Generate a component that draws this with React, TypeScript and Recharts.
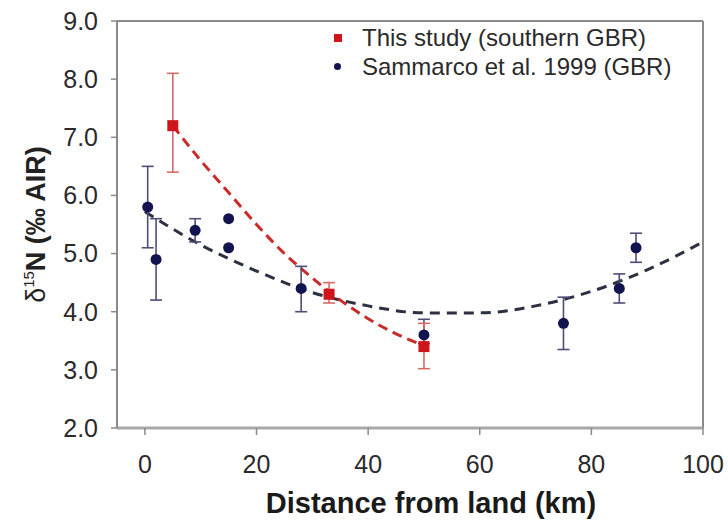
import React from 'react'
import {
  ComposedChart, XAxis, YAxis, Scatter, Line, ErrorBar, ReferenceLine, Legend, Label,
} from 'recharts'

const X_TICKS = [0, 20, 40, 60, 80, 100]
const Y_TICKS = [2, 3, 4, 5, 6, 7, 8, 9]

// This study (southern GBR): distance from land (km), mean d15N, error [below, above]
const STUDY = [
  { x: 5, y: 7.2, err: [0.8, 0.9] },
  { x: 33, y: 4.3, err: [0.15, 0.2] },
  { x: 50, y: 3.4, err: [0.38, 0.4] },
]

// Sammarco et al. 1999 (GBR)
const SAMMARCO = [
  { x: 0.5, y: 5.8, err: [0.7, 0.7] },
  { x: 2, y: 4.9, err: [0.7, 0.7] },
  { x: 9, y: 5.4, err: [0.2, 0.2] },
  { x: 28, y: 4.4, err: [0.4, 0.38] },
  { x: 50, y: 3.6, err: [0.15, 0.27] },
  { x: 75, y: 3.8, err: [0.45, 0.45] },
  { x: 85, y: 4.4, err: [0.25, 0.25] },
  { x: 88, y: 5.1, err: [0.25, 0.25] },
]
const SAMMARCO_NO_ERR = [
  { x: 15, y: 5.6 },
  { x: 15, y: 5.1 },
]

// dashed trend lines
const STUDY_FIT = [
  { x: 5, y: 7.2 }, { x: 10, y: 6.6 }, { x: 15, y: 6.05 }, { x: 20, y: 5.5 },
  { x: 25, y: 5.0 }, { x: 30, y: 4.58 }, { x: 35, y: 4.2 }, { x: 40, y: 3.88 },
  { x: 45, y: 3.62 }, { x: 50, y: 3.42 },
]
const SAMMARCO_FIT = [
  { x: 0, y: 5.72 }, { x: 10, y: 5.15 }, { x: 20, y: 4.7 }, { x: 30, y: 4.33 },
  { x: 40, y: 4.1 }, { x: 50, y: 3.98 }, { x: 60, y: 3.98 }, { x: 70, y: 4.1 },
  { x: 80, y: 4.35 }, { x: 90, y: 4.72 }, { x: 100, y: 5.2 },
]

const RED = '#d0141c'
const RED_ERR = '#d86a66'
const NAVY = '#13134f'
const NAVY_ERR = '#4d4d78'
const AXIS = '#8a8a8a'
const FONT = '"Liberation Sans", Arial, Helvetica, sans-serif'

const redSquare = (p: any) => (
  <rect x={p.cx - 5.5} y={p.cy - 5.5} width={11} height={11} fill={RED} />
)
const navyDot = (p: any) => <circle cx={p.cx} cy={p.cy} r={5.5} fill={NAVY} />

const YTitle = (props: any) => {
  const vb = props.viewBox
  const cx = 45
  const cy = vb.y + vb.height / 2
  return (
    <text
      x={cx} y={cy} textAnchor="middle" transform={`rotate(-90, ${cx}, ${cy})`}
      fontFamily={FONT} fontSize={27} fontWeight="bold" fill="#222"
    >
      <tspan fontWeight="normal">δ</tspan>
      <tspan fontWeight="normal" fontSize={15} dy={-11}>15</tspan>
      <tspan dy={11}>N (‰ AIR)</tspan>
    </text>
  )
}

const LegendBox = () => (
  <div style={{ fontFamily: FONT, fontSize: 24, color: '#2a2a2a', lineHeight: '29px' }}>
    <div style={{ display: 'flex', alignItems: 'center' }}>
      <span style={{ width: 8, height: 8, background: RED, marginRight: 20 }} />
      This study (southern GBR)
    </div>
    <div style={{ display: 'flex', alignItems: 'center' }}>
      <span style={{ width: 7, height: 7, borderRadius: '50%', background: NAVY, marginRight: 21 }} />
      Sammarco et al. 1999 (GBR)
    </div>
  </div>
)

export default function App() {
  return (
    <div style={{ position: 'absolute', left: 0, top: 0, width: 728, height: 520, background: '#fff' }}>
      <ComposedChart width={728} height={520} margin={{ top: 21, right: 25, bottom: 0, left: 0 }}>
        <XAxis
          type="number" dataKey="x" domain={[-5, 100]} ticks={X_TICKS} allowDataOverflow
          height={92} tickSize={7} tickMargin={20}
          axisLine={{ stroke: '#a8a8a8', strokeWidth: 3 }}
          tickLine={{ stroke: AXIS, strokeWidth: 1.5 }}
          tick={{ fontSize: 25, fill: '#2a2a2a', fontFamily: FONT }}
        >
          <Label
            value="Distance from land (km)" position="insideBottom" offset={7} dx={21}
            style={{ fontSize: 29, fontWeight: 'bold', fill: '#1a1a1a', fontFamily: FONT }}
          />
        </XAxis>
        <YAxis
          type="number" domain={[2, 9]} ticks={Y_TICKS} allowDataOverflow
          width={117} tickSize={6} tickMargin={13}
          tickFormatter={(v: number) => v.toFixed(1)}
          axisLine={{ stroke: AXIS, strokeWidth: 2 }}
          tickLine={{ stroke: AXIS, strokeWidth: 1.5 }}
          tick={{ fontSize: 25, fill: '#2a2a2a', fontFamily: FONT }}
          label={{ content: YTitle }}
        />
        <ReferenceLine y={9} stroke={AXIS} strokeWidth={2} />
        <ReferenceLine x={100} stroke={AXIS} strokeWidth={2} />
        <Legend
          layout="horizontal" verticalAlign="middle" align="center"
          content={LegendBox}
          wrapperStyle={{ left: 334, top: 23, width: 390 }}
        />
        <Line
          data={SAMMARCO_FIT} dataKey="y" type="monotone" stroke="#2c3040" strokeWidth={3}
          strokeDasharray="10 7" dot={false} activeDot={false} isAnimationActive={false}
          legendType="none"
        />
        <Line
          data={STUDY_FIT} dataKey="y" type="monotone" stroke="#c92b2b" strokeWidth={3}
          strokeDasharray="10 6" dot={false} activeDot={false} isAnimationActive={false}
          legendType="none"
        />
        <Scatter data={SAMMARCO} dataKey="y" shape={navyDot} isAnimationActive={false}>
          <ErrorBar dataKey="err" direction="y" width={6} stroke={NAVY_ERR} strokeWidth={1.6} />
        </Scatter>
        <Scatter data={SAMMARCO_NO_ERR} dataKey="y" shape={navyDot} isAnimationActive={false} />
        <Scatter data={STUDY} dataKey="y" shape={redSquare} isAnimationActive={false}>
          <ErrorBar dataKey="err" direction="y" width={6} stroke={RED_ERR} strokeWidth={1.6} />
        </Scatter>
      </ComposedChart>
    </div>
  )
}
